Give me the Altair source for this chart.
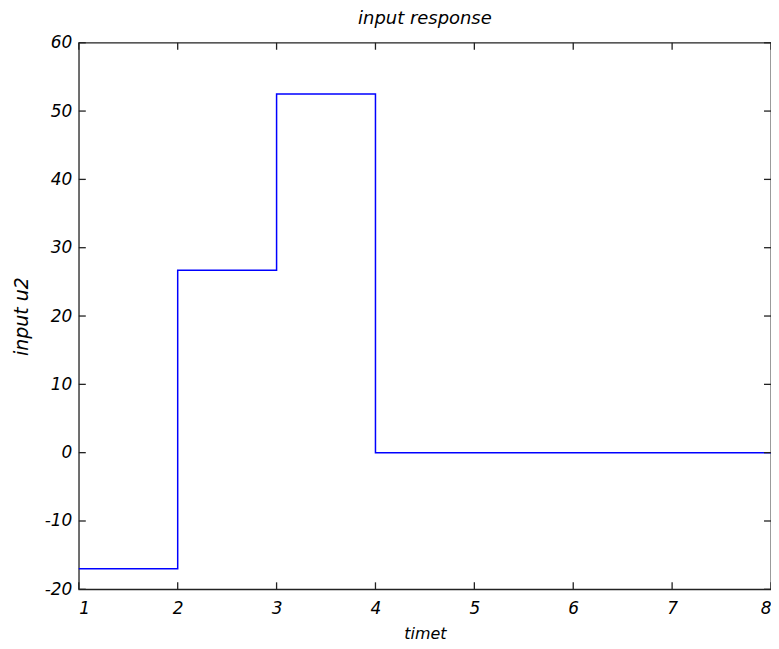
import altair as alt
import pandas as pd

t = [1, 2, 3, 4, 8]
u2 = [-17.0, 26.7, 52.5, 0.0, 0.0]
x_ticks = [1, 2, 3, 4, 5, 6, 7, 8]
y_ticks = [-20, -10, 0, 10, 20, 30, 40, 50, 60]

df = pd.DataFrame({"t": t, "u2": u2})
xt = pd.DataFrame({"v": x_ticks})
yt = pd.DataFrame({"v": y_ticks})

FONT = "DejaVu Sans"
xs = alt.Scale(domain=[1, 8], nice=False, zero=False)
ys = alt.Scale(domain=[-20, 60], nice=False, zero=False)

common = dict(ticks=False, domain=False, grid=False, labelExpr="'' + datum.value",
              labelFont=FONT, labelFontStyle="italic", labelFontSize=17, labelColor="#000",
              titleFont=FONT, titleFontStyle="italic",
              titleFontWeight="normal", titleColor="#000")

line = alt.Chart(df).mark_line(interpolate="step-after", color="#0000ff", strokeWidth=1.5).encode(
    x=alt.X("t:Q", scale=xs, title="timet",
            axis=alt.Axis(values=x_ticks, labelPadding=11, titlePadding=9, titleFontSize=16, **common)),
    y=alt.Y("u2:Q", scale=ys, title="input u2",
            axis=alt.Axis(values=y_ticks, labelPadding=7, titlePadding=13, titleFontSize=19, **common)),
)

tk = dict(color="#222", strokeWidth=1.3)
xb = alt.Chart(xt).mark_rule(**tk).encode(x=alt.X("v:Q", scale=xs), y=alt.value(548), y2=alt.value(541))
xtop = alt.Chart(xt).mark_rule(**tk).encode(x=alt.X("v:Q", scale=xs), y=alt.value(0), y2=alt.value(7))
yl = alt.Chart(yt).mark_rule(**tk).encode(y=alt.Y("v:Q", scale=ys), x=alt.value(0), x2=alt.value(7))
yr = alt.Chart(yt).mark_rule(**tk).encode(y=alt.Y("v:Q", scale=ys), x=alt.value(694), x2=alt.value(687))

chart = alt.layer(line, xb, xtop, yl, yr).properties(
    width=694, height=548,
    title=alt.TitleParams("input response", font=FONT, fontStyle="italic", fontSize=18,
                          fontWeight="normal", color="#000", offset=6),
    autosize=alt.AutoSizeParams(type="none"),
    padding={"left": 71, "top": 34, "right": 0, "bottom": 58},
).configure(background="white").configure_view(stroke="#222", strokeWidth=1.3)

chart.save("out.html", embed_options={"renderer": "svg", "actions": False})
